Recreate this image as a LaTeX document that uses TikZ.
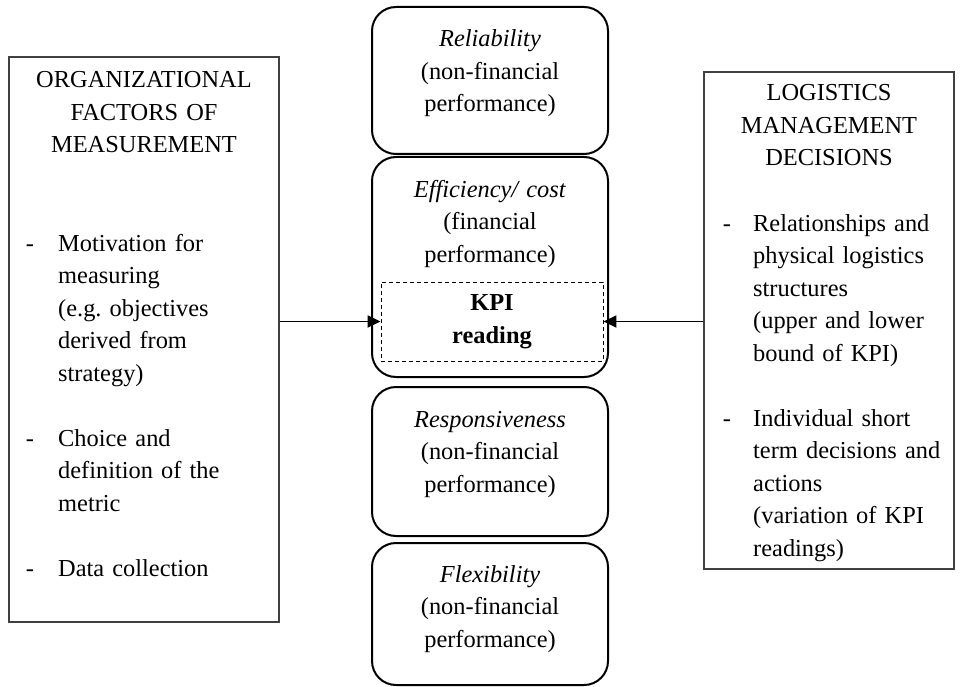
\documentclass[tikz,border=0pt]{standalone}
\usepackage{fontspec}
\setmainfont{Liberation Serif}
\usetikzlibrary{arrows.meta}
\frenchspacing

\begin{document}
\begin{tikzpicture}[x=1pt, y=-1pt,
  txt/.style={font=\fontsize{24.4}{32.5}\selectfont, inner sep=0pt, anchor=base},
  ctxt/.style={txt, text width=260pt, align=center},
  ltxt/.style={txt, anchor=base west, text width=200pt, align=left},
  sidebox/.style={draw=black!75, line width=1.3pt, rectangle, inner sep=0pt},
  perfbox/.style={draw=black, line width=2pt, rounded corners=24pt, inner sep=0pt,
                  minimum width=236pt},
  kpibox/.style={draw=black, line width=0.9pt, dash pattern=on 4pt off 3pt,
                 inner sep=0pt, minimum width=222pt, minimum height=79pt,
                 font=\fontsize{24.4}{32.5}\selectfont\bfseries, align=center},
  arr/.style={line width=1.8pt, -{Triangle[length=13pt,width=12pt]}}
]
\useasboundingbox (0,0) rectangle (963,687);

% ---- centre column: performance dimensions ----
\node[perfbox, minimum height=147pt] (rel)  at (490,80.5)  {};
\node[perfbox, minimum height=220pt] (eff)  at (490,267)   {};
\node[perfbox, minimum height=149pt] (resp) at (490,461.5) {};
\node[perfbox, minimum height=142pt] (flex) at (490,614)   {};

\node[ctxt] (reltxt)  at (490,47)  {\textit{Reliability}\\(non-financial\\performance)};
\node[ctxt] (efftxt)  at (490,197) {\textit{Efficiency/ cost}\\(financial\\performance)};
\node[ctxt] (resptxt) at (490,427) {\textit{Responsiveness}\\(non-financial\\performance)};
\node[ctxt] (flextxt) at (490,582) {\textit{Flexibility}\\(non-financial\\performance)};

\node[kpibox] (kpi) at (492,321.5) {KPI\\reading};

% ---- left box: organizational factors ----
\node[sidebox, minimum width=270pt, minimum height=565pt] (lbox) at (144,339.5) {};
\node[ctxt] (lhead) at (144,88) {ORGANIZATIONAL\\FACTORS OF\\MEASUREMENT};
\node[txt] (ld1) at (30,251) {-};
\node[ltxt] (li1) at (58,251) {Motivation for\\measuring\\(e.g. objectives\\derived from\\strategy)};
\node[txt] (ld2) at (30,446) {-};
\node[ltxt] (li2) at (58,446) {Choice and\\definition of the\\metric};
\node[txt] (ld3) at (30,576) {-};
\node[ltxt] (li3) at (58,576) {Data collection};

% ---- right box: logistics management decisions ----
\node[sidebox, minimum width=250pt, minimum height=497pt] (rbox) at (829,320.5) {};
\node[ctxt] (rhead) at (829,101) {LOGISTICS\\MANAGEMENT\\DECISIONS};
\node[txt] (rd1) at (727,231) {-};
\node[ltxt] (ri1) at (753,231) {Relationships and\\physical logistics\\structures\\(upper and lower\\bound of KPI)};
\node[txt] (rd2) at (727,426) {-};
\node[ltxt] (ri2) at (753,426) {Individual short\\term decisions and\\actions\\(variation of KPI\\readings)};

% ---- influences on the KPI reading ----
\draw[arr] (lbox.east |- kpi.west) -- (kpi.west);
\draw[arr] (rbox.west |- kpi.east) -- (kpi.east);
\end{tikzpicture}
\end{document}
